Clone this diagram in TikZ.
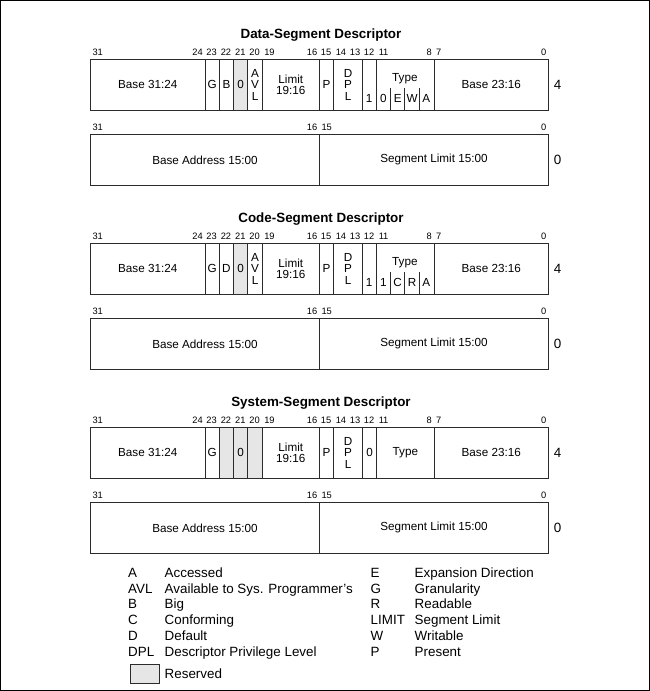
\documentclass[tikz,border=0pt]{standalone}
\usepackage{fontspec}
\setmainfont{Liberation Sans}
\definecolor{resgrey}{HTML}{E6E6E6}
\definecolor{edge}{HTML}{2B2B2B}
\tikzset{
  field/.style={draw=edge, line width=0.9pt, minimum height=51pt, inner sep=0pt,
    align=center, font=\fontsize{11.7}{11.4}\selectfont, anchor=north west},
  reserved/.style={fill=resgrey},
  bitnum/.style={inner sep=0pt, font=\fontsize{9.3}{10}\selectfont, text height=6.7pt, text depth=0pt},
  subtxt/.style={inner sep=0pt, font=\fontsize{11.7}{12}\selectfont, text height=8.4pt, text depth=0pt},
  titletxt/.style={inner sep=0pt, font=\bfseries\fontsize{13.4}{14}\selectfont, text height=9.6pt, text depth=0pt},
  offs/.style={inner sep=0pt, font=\fontsize{13.4}{14}\selectfont, text height=9.6pt, text depth=0pt},
  legend/.style={inner sep=0pt, anchor=west, font=\fontsize{13.4}{14}\selectfont, text height=9.6pt, text depth=0pt},
  sepline/.style={draw=edge, line width=0.9pt},
  frame/.style={draw=black, line width=1.2pt},
}
% field node: name, hi bit, lo bit, top y, extra style, text
\newcommand{\fld}[6]{%
  \pgfmathsetmacro{\fx}{90+(31-#2)*14.3125}%
  \pgfmathsetmacro{\fw}{(#2-#3+1)*14.3125}%
  \node[field,#5,minimum width=\fw pt] (#1) at (\fx,#4) {#6};}
% bit labels: name, bit, y
\newcommand{\bitL}[3]{%
  \pgfmathsetmacro{\bx}{90+(31-#2)*14.3125+2.3}%
  \node[bitnum,anchor=west] (#1) at (\bx,#3) {#2};}
\newcommand{\bitR}[3]{%
  \pgfmathsetmacro{\bx}{90+(32-#2)*14.3125-1.5}%
  \node[bitnum,anchor=east] (#1) at (\bx,#3) {#2};}
\newcommand{\bitC}[3]{%
  \pgfmathsetmacro{\bx}{90+(31.5-#2)*14.3125}%
  \node[bitnum] (#1) at (\bx,#3) {#2};}
% small text at a bit centre: name, bit, y, text
\newcommand{\subt}[4]{%
  \pgfmathsetmacro{\bx}{90+(31.5-#2)*14.3125}%
  \node[subtxt] (#1) at (\bx,#3) {#4};}
% separator left of bit: bit, top y, bottom y
\newcommand{\sep}[3]{%
  \pgfmathsetmacro{\bx}{90+(31-#1)*14.3125}%
  \draw[sepline] (\bx,#2) -- (\bx,#3);}
% upper-row bit numbers
\newcommand{\upperbits}[2]{%
  \bitL{#1b31}{31}{#2}\bitR{#1b24}{24}{#2}\bitC{#1b23}{23}{#2}\bitC{#1b22}{22}{#2}%
  \bitC{#1b21}{21}{#2}\bitC{#1b20}{20}{#2}\bitL{#1b19}{19}{#2}\bitR{#1b16}{16}{#2}%
  \bitC{#1b15}{15}{#2}\bitL{#1b14}{14}{#2}\bitR{#1b13}{13}{#2}\bitC{#1b12}{12}{#2}%
  \bitL{#1b11}{11}{#2}\bitR{#1b8}{8}{#2}\bitL{#1b7}{7}{#2}\bitR{#1b0}{0}{#2}}
% lower row (word 0): prefix, top y
\newcommand{\lowerrow}[2]{%
  \pgfmathsetmacro{\ly}{#2-7.3}%
  \bitL{#1l31}{31}{\ly}\bitR{#1l16}{16}{\ly}\bitL{#1l15}{15}{\ly}\bitR{#1l0}{0}{\ly}%
  \fld{#1base}{31}{16}{#2}{}{Base Address 15:00}%
  \fld{#1limit}{15}{0}{#2}{}{Segment Limit 15:00}%
  \pgfmathsetmacro{\oy}{#2+26}%
  \node[offs] (#1off0) at (557.5,\oy) {0};}
\newcommand{\legentry}[6]{%
  \node[legend] (#1a) at (#2,#4) {#5};
  \node[legend] (#1d) at (#3,#4) {#6};}

\begin{document}
\begin{tikzpicture}[x=1pt,y=-1pt]
\useasboundingbox (0,0) rectangle (650,691);
\draw[frame] (0.6,0.6) rectangle (649.2,690.2);

% ---------------- Data-Segment Descriptor ----------------
\node[titletxt] (dtitle) at (321,34) {Data-Segment Descriptor};
\upperbits{d}{52.3}
\fld{dbasehi}{31}{24}{59}{}{Base 31:24}
\fld{dg}{23}{23}{59}{}{G}
\fld{db}{22}{22}{59}{}{B}
\fld{dz}{21}{21}{59}{reserved}{0}
\fld{davl}{20}{20}{59}{}{A\\V\\L}
\fld{dlim}{19}{16}{59}{}{Limit\\19:16}
\fld{dp}{15}{15}{59}{}{P}
\fld{ddpl}{14}{13}{59}{}{D\\P\\L}
\fld{ds}{12}{12}{59}{}{}
\fld{dtype}{11}{8}{59}{}{}
\fld{dbasemid}{7}{0}{59}{}{Base 23:16}
\subt{ds1}{12}{98}{1}
\pgfmathsetmacro{\tx}{90+22*14.3125}
\node[subtxt] (dtypelab) at (\tx,77) {Type};
\subt{dt0}{11}{98}{0}\subt{dtE}{10}{98}{E}\subt{dtW}{9}{98}{W}\subt{dtA}{8}{98}{A}
\sep{10}{88}{110}\sep{9}{88}{110}\sep{8}{88}{110}
\node[offs] (doff4) at (557.5,85) {4};
\lowerrow{d}{134}

% ---------------- Code-Segment Descriptor ----------------
\node[titletxt] (ctitle) at (321,218) {Code-Segment Descriptor};
\upperbits{c}{236.3}
\fld{cbasehi}{31}{24}{243}{}{Base 31:24}
\fld{cg}{23}{23}{243}{}{G}
\fld{cd}{22}{22}{243}{}{D}
\fld{cz}{21}{21}{243}{reserved}{0}
\fld{cavl}{20}{20}{243}{}{A\\V\\L}
\fld{clim}{19}{16}{243}{}{Limit\\19:16}
\fld{cp}{15}{15}{243}{}{P}
\fld{cdpl}{14}{13}{243}{}{D\\P\\L}
\fld{cs}{12}{12}{243}{}{}
\fld{ctype}{11}{8}{243}{}{}
\fld{cbasemid}{7}{0}{243}{}{Base 23:16}
\subt{cs1}{12}{282}{1}
\node[subtxt] (ctypelab) at (\tx,261) {Type};
\subt{ct1}{11}{282}{1}\subt{ctC}{10}{282}{C}\subt{ctR}{9}{282}{R}\subt{ctA}{8}{282}{A}
\sep{10}{272}{294}\sep{9}{272}{294}\sep{8}{272}{294}
\node[offs] (coff4) at (557.5,269) {4};
\lowerrow{c}{318}

% ---------------- System-Segment Descriptor ----------------
\node[titletxt] (stitle) at (321,402) {System-Segment Descriptor};
\upperbits{s}{420.3}
\fld{sbasehi}{31}{24}{427}{}{Base 31:24}
\fld{sg}{23}{23}{427}{}{G}
\fld{sr22}{22}{22}{427}{reserved}{}
\fld{sz}{21}{21}{427}{reserved}{0}
\fld{sr20}{20}{20}{427}{reserved}{}
\fld{slim}{19}{16}{427}{}{Limit\\19:16}
\fld{sp}{15}{15}{427}{}{P}
\fld{sdpl}{14}{13}{427}{}{D\\P\\L}
\fld{ss}{12}{12}{427}{}{0}
\fld{stype}{11}{8}{427}{}{Type}
\fld{sbasemid}{7}{0}{427}{}{Base 23:16}
\node[offs] (soff4) at (557.5,453) {4};
\lowerrow{s}{502}

% ---------------- Legend ----------------
\legentry{lA}{128}{164.5}{572.3}{A}{Accessed}
\legentry{lAVL}{128}{164.5}{588.2}{AVL}{Available to Sys. Programmer's}
\legentry{lB}{128}{164.5}{604.1}{B}{Big}
\legentry{lC}{128}{164.5}{620}{C}{Conforming}
\legentry{lD}{128}{164.5}{635.9}{D}{Default}
\legentry{lDPL}{128}{164.5}{651.8}{DPL}{Descriptor Privilege Level}
\legentry{lE}{370.5}{414.5}{572.3}{E}{Expansion Direction}
\legentry{lG}{370.5}{414.5}{588.2}{G}{Granularity}
\legentry{lR}{370.5}{414.5}{604.1}{R}{Readable}
\legentry{lLIM}{370.5}{414.5}{620}{LIMIT}{Segment Limit}
\legentry{lW}{370.5}{414.5}{635.9}{W}{Writable}
\legentry{lP}{370.5}{414.5}{651.8}{P}{Present}
\node[draw=edge, line width=0.9pt, fill=resgrey, minimum width=29pt, minimum height=18.5pt, inner sep=0pt, anchor=north west] (lres) at (130,664) {};
\node[legend] (lresd) at (164.5,673.3) {Reserved};
\end{tikzpicture}
\end{document}
